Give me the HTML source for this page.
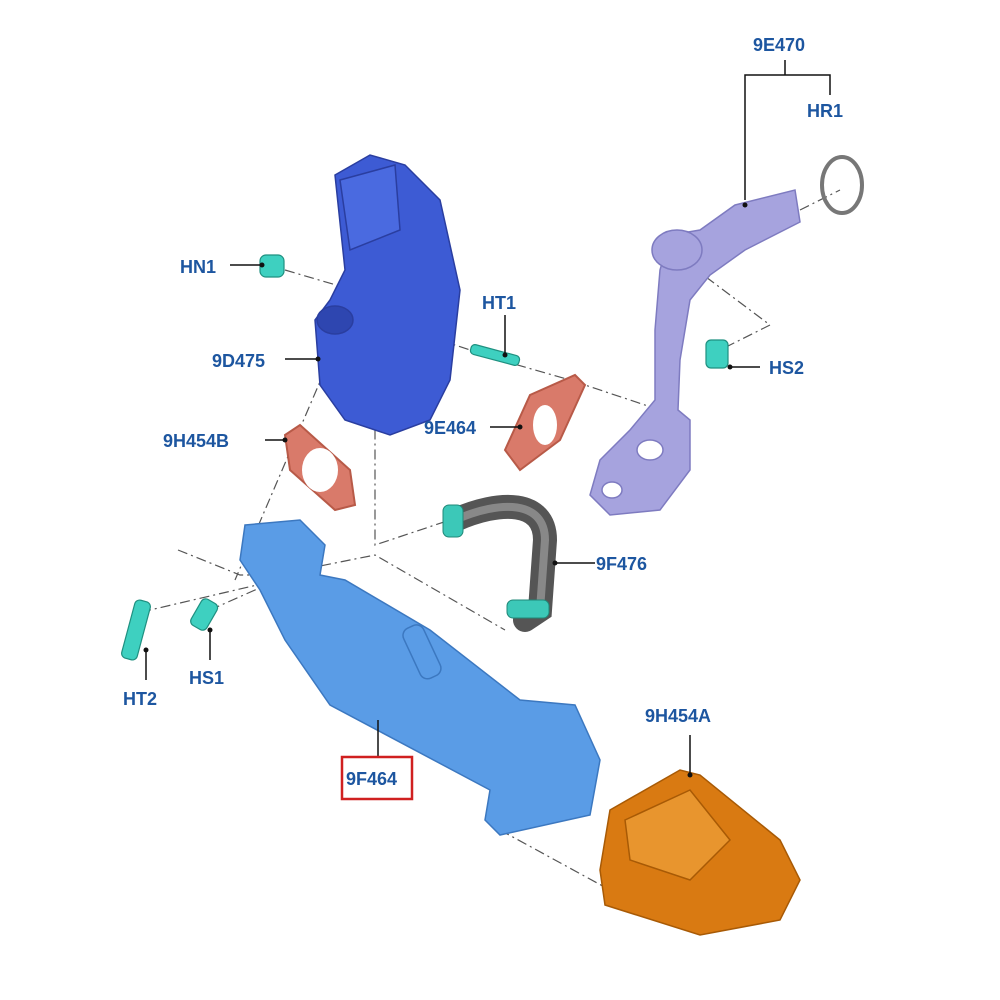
<!DOCTYPE html>
<html><head><meta charset="utf-8"><style>
html,body{margin:0;padding:0;background:#fff;}
svg{display:block;}
text{font-family:"Liberation Sans",sans-serif;font-weight:bold;font-size:18px;fill:#1d56a0;}
</style></head><body>
<svg width="1000" height="1000" viewBox="0 0 1000 1000" xmlns="http://www.w3.org/2000/svg">
<rect width="1000" height="1000" fill="#fff"/>
<g stroke="#555" stroke-width="1.2" fill="none" stroke-dasharray="10,4,2,4">
<path d="M285 270 L370 295 L380 330 L440 340"/>
<path d="M350 310 L375 315 L375 545 L450 520"/>
<path d="M440 340 L500 360 L570 380 L660 410"/>
<path d="M325 370 L235 580"/>
<path d="M178 550 L240 575 L300 575 L150 610"/>
<path d="M210 610 L300 570 L375 555 L505 630"/>
<path d="M690 265 L770 325 L720 350"/>
<path d="M800 210 L840 190"/>
<path d="M500 830 L610 890"/>
</g>
<g fill="#a6a3de" stroke="#7e7bc0" stroke-width="1.5">
<path d="M735 205 L795 190 L800 222 L745 250 L710 275 L690 300 L680 360 L678 410 L690 420 L690 470 L660 510 L610 515 L590 495 L600 460 L630 430 L655 400 L655 330 L660 270 L670 235 L700 230 Z"/>
<ellipse cx="677" cy="250" rx="25" ry="20"/>
<ellipse cx="612" cy="490" rx="10" ry="8" fill="#fff"/>
<ellipse cx="650" cy="450" rx="13" ry="10" fill="#fff"/>
</g>
<ellipse cx="842" cy="185" rx="20" ry="28" fill="none" stroke="#777" stroke-width="4"/>
<g fill="#3d5bd4" stroke="#2a3ea0" stroke-width="1.5">
<path d="M335 175 L370 155 L405 165 L440 200 L460 290 L450 380 L430 420 L390 435 L345 420 L320 385 L315 320 L330 300 L345 270 Z"/>
<path d="M340 180 L395 165 L400 230 L350 250 Z" fill="#4a6ae0"/>
<ellipse cx="335" cy="320" rx="18" ry="14" fill="#2e46b0"/>
</g>
<g fill="#d97a6a" stroke="#b85a48" stroke-width="2">
<path d="M285 435 L300 425 L350 470 L355 505 L335 510 L290 470 Z"/>
<path d="M505 450 L530 395 L575 375 L585 385 L560 440 L520 470 Z"/>
</g>
<ellipse cx="320" cy="470" rx="18" ry="22" fill="#fff"/>
<ellipse cx="545" cy="425" rx="12" ry="20" fill="#fff"/>
<path d="M455 520 C500 500 545 500 545 540 L540 610 L525 620" fill="none" stroke="#555" stroke-width="24" stroke-linecap="round"/>
<path d="M455 520 C500 500 545 500 545 540 L540 610" fill="none" stroke="#888" stroke-width="8"/>
<rect x="443" y="505" width="20" height="32" rx="6" fill="#3cc8b8" stroke="#208878"/>
<rect x="507" y="600" width="42" height="18" rx="6" fill="#3cc8b8" stroke="#208878"/>
<g fill="#5a9ce6" stroke="#3c78c0" stroke-width="1.5">
<path d="M245 525 L300 520 L325 545 L320 575 L345 580 L430 630 L520 700 L575 705 L600 760 L590 815 L500 835 L485 820 L490 790 L330 705 L285 640 L260 590 L240 560 Z"/>
<rect x="410" y="625" width="22" height="55" rx="8" transform="rotate(-25 420 650)"/>
</g>
<g fill="#d97a12" stroke="#a85a05" stroke-width="1.5">
<path d="M610 810 L680 770 L700 775 L780 840 L800 880 L780 920 L700 935 L605 905 L600 870 Z"/>
<path d="M625 820 L690 790 L730 840 L690 880 L630 860 Z" fill="#e8952e"/>
</g>
<g fill="#3ed0c0" stroke="#1f9080" stroke-width="1.2">
<rect x="260" y="255" width="24" height="22" rx="6"/>
<rect x="470" y="350" width="50" height="10" rx="4" transform="rotate(15 495 355)"/>
<rect x="706" y="340" width="22" height="28" rx="5"/>
<rect x="128" y="600" width="16" height="60" rx="5" transform="rotate(15 136 630)"/>
<rect x="195" y="600" width="18" height="30" rx="5" transform="rotate(30 205 615)"/>
</g>
<g stroke="#111" stroke-width="1.5" fill="none">
<path d="M230 265 L262 265"/>
<path d="M285 359 L318 359"/>
<path d="M505 315 L505 355"/>
<path d="M760 367 L730 367"/>
<path d="M490 427 L520 427"/>
<path d="M265 440 L285 440"/>
<path d="M595 563 L555 563"/>
<path d="M146 680 L146 650"/>
<path d="M210 660 L210 630"/>
<path d="M690 735 L690 775"/>
<path d="M378 758 L378 720"/>
<path d="M745 200 L745 75 L830 75 L830 95"/>
<path d="M785 75 L785 60"/>
</g>
<g fill="#111">
<circle cx="262" cy="265" r="2.5"/><circle cx="318" cy="359" r="2.5"/><circle cx="505" cy="355" r="2.5"/>
<circle cx="730" cy="367" r="2.5"/><circle cx="520" cy="427" r="2.5"/><circle cx="285" cy="440" r="2.5"/>
<circle cx="555" cy="563" r="2.5"/><circle cx="146" cy="650" r="2.5"/><circle cx="210" cy="630" r="2.5"/>
<circle cx="690" cy="775" r="2.5"/><circle cx="745" cy="205" r="2.5"/>
</g>
<text x="753" y="51">9E470</text>
<text x="807" y="117">HR1</text>
<text x="180" y="273">HN1</text>
<text x="482" y="309">HT1</text>
<text x="212" y="367">9D475</text>
<text x="769" y="374">HS2</text>
<text x="424" y="434">9E464</text>
<text x="163" y="447">9H454B</text>
<text x="596" y="570">9F476</text>
<text x="123" y="705">HT2</text>
<text x="189" y="684">HS1</text>
<text x="645" y="722">9H454A</text>
<rect x="342" y="757" width="70" height="42" fill="none" stroke="#d02020" stroke-width="2.5"/>
<text x="346" y="785">9F464</text>
</svg>
</body></html>
